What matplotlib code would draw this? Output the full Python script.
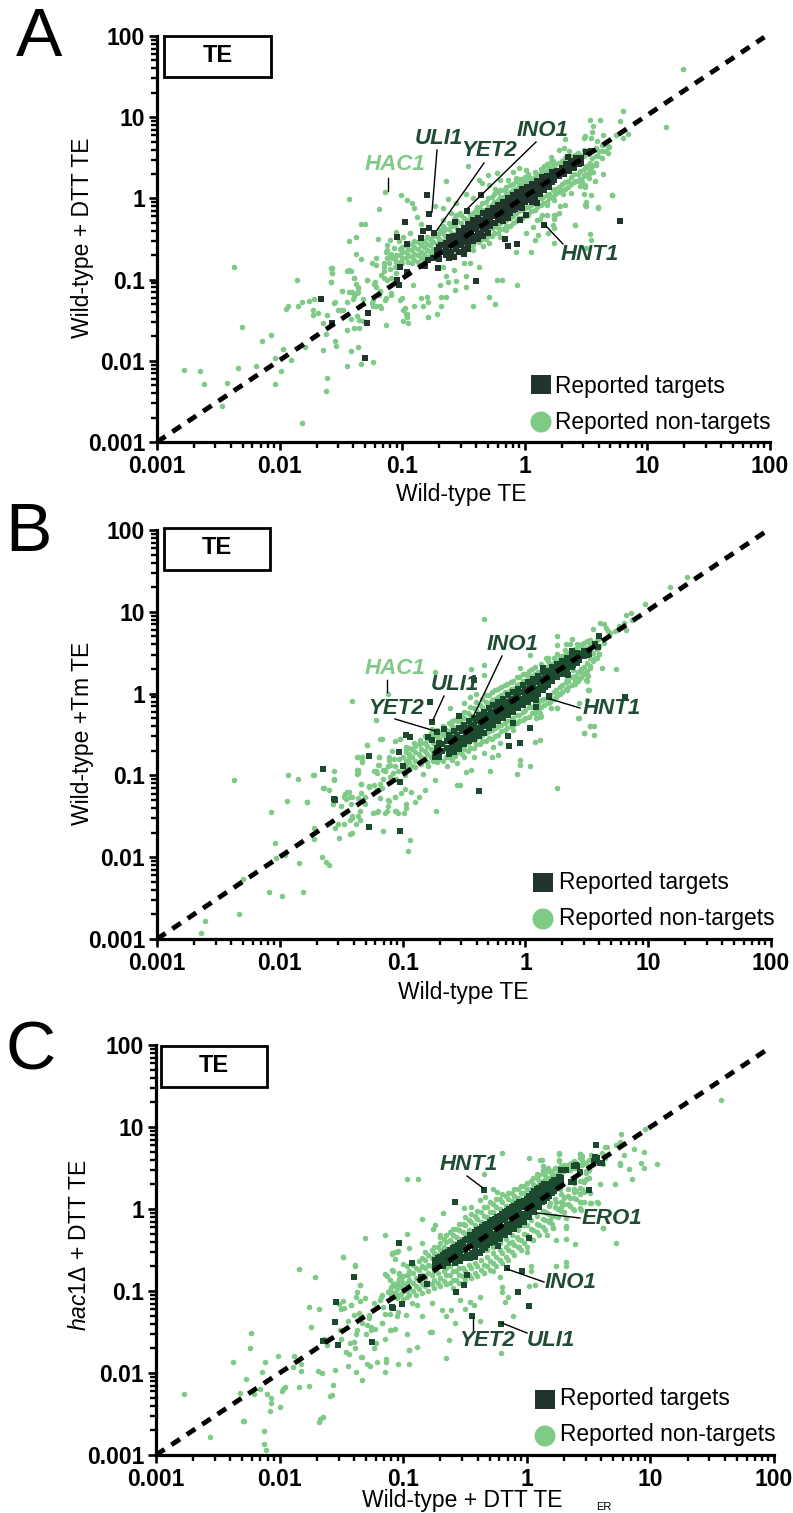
import numpy as np
import matplotlib
matplotlib.use('Agg')
import matplotlib.pyplot as plt
from matplotlib.patches import Rectangle, Ellipse
from matplotlib.ticker import FixedLocator, FixedFormatter, NullFormatter

plt.rcParams['font.family'] = ['Liberation Sans', 'DejaVu Sans']
plt.rcParams['mathtext.fontset'] = 'custom'
plt.rcParams['mathtext.rm'] = 'Liberation Sans'
plt.rcParams['mathtext.it'] = 'Liberation Sans:italic'

# values are log10(TE), (x, y)
a_others = [(-2.37,-.84),(-2.31,-1.58),(-2.78,-2.11),(-2.65,-2.13),(-2.62,-2.29),(-2.43,-2.27),(-2.34,-2.09),(-2.47,-2.56),
    (-2.14,-1.75),(-2.07,-1.68),(-1.97,-1.85),(-2.04,-1.96),(-2.19,-2.06),(-1.91,-1.99),(-1.99,-2.13),(-2.04,-2.29),
    (-1.79,-1.83),(-1.82,-2.77),(-1.61,-2.21),(-1.62,-2.37),(-1.65,-1.87),(-1.45,-2.06),(-1.34,-2.04),(-1.24,-2.01),
    (-1.42,-1.88),(-1.36,-1.83),(-1.55,-1.75),(-1.54,-1.82),(-1.62,-1.67),(-1.65,-1.53),(-1.61,-1.43),(-1.73,-1.44),
    (-1.73,-1.37),(-1.69,-1.41),(-1.85,-1.33),(-1.82,-1.28),(-1.95,-1.36),(-1.93,-1.32),(-1.76,-1.26),(-1.72,-1.24),
    (-1.86,-1.00),(-1.58,-1.03),(-1.57,-.92),(-1.57,-.86),(-1.56,-1.29),(-1.52,-1.37),(-1.50,-1.37),(-1.48,-1.37),
    (-1.45,-1.28),(-1.49,-1.14),(-1.43,-1.15),(-1.45,-.90),(-1.42,-.89),(-1.39,-.98),(-1.43,-.53),(-1.38,-.48),
    (-1.38,-.68),(-1.34,-.75),(-1.20,-.50),(-1.25,-.80),(-1.21,-.82),(-1.21,-.73),(-1.29,-1.01),(-1.38,-1.05),
    (-1.36,-1.10),(-1.37,-1.17),(-1.40,-1.24),(-1.32,-1.24),(-1.39,-1.20),(-1.45,-1.62),(-1.42,-1.49),(-1.39,-1.59),
    (-1.35,-1.60),(-1.37,-1.45),(-1.35,-1.50),(-1.32,-1.51),(-1.13,-1.56),(-1.23,-1.05),(-1.21,-1.09),(-1.18,-1.14),
    (-1.19,-1.19),(-1.24,-1.25),(-1.24,-1.32),(-1.21,-1.33),(-1.17,-1.35),(-1.13,-1.23),(-1.09,-1.19),(-.99,-1.37),
    (-.97,-1.42),(-.96,-1.46),(-.99,-1.51),(-.95,-1.54),(-1.00,-1.23),(-1.15,-.90),(-1.17,-.94),(-1.15,-.98),
    (-1.12,-1.00),(-1.09,-.98),(-1.05,-.92),(-1.12,-.57),(-1.13,-.66),(-1.12,-.74),(-1.11,-.80),(-1.07,-.61),
    (-1.10,-.51),(-1.03,-.52),(-1.05,-.41),(-.99,-.48),(-.94,-.43),(-1.15,-.85),(-1.10,-.87),(-1.06,-.84),
    (-1.14,.075),(-1.43,-.01),(-1.19,-.13),(-1.01,.04),(-.96,-.02),(-.92,-.06),(-.90,-.12),(-.88,-.23),(-1.34,-.31),
    (-1.30,-.31),(-.85,-.31),(-1.12,-.64),(-1.11,-.72),(-1.15,-.80),(-1.09,-.68),(-1.06,-.74),(-.64,.21),(-.63,-.01),
    (-.67,-.12),(-.73,-.09),(-.46,.40),(-.37,.23),(-.30,.29),(-.23,.31),(-.16,.12),(-.10,.33),(-.05,.37),(.01,.35),
    (-.05,.21),(-.29,.17),(-.35,.19),(-.24,.12),(-.20,.23),(-.14,.23),(-.07,.25),(.04,.25),(-.48,.06),(-.42,.00),
    (-.39,-.10),(-.56,-.06),(-.53,-.18),(-.60,-.18),(-.67,-.27),(-.69,-.39),(-.56,-.20),(-.67,-.84),(-.58,-.88),
    (-.50,-.80),(-.45,-.80),(-.37,-.84),(-.64,-.96),(-.63,-1.03),(-.69,-1.07),(-.58,-.72),(-.50,-.68),(-.42,-.64),
    (-.34,-.59),(-.29,-.55),(-.20,-.47),(-.15,-.39),(-.31,-.43),(-.23,-.35),(.12,-.25),(.07,-.35),(.11,-.45),
    (.08,-.51),(.01,-.42),(-.07,-.66),(.18,-.20),(.25,-.20),(.23,-.33),(.19,-.43),(.41,-.33),(.24,-.55),(.53,-.44),
    (.54,-.51),(.50,-.61),(.05,-.66),(.49,-.08),(.60,-.11),(.71,.04),(.52,.37),(.49,.17),(.56,.32),(.57,.21),
    (.45,.15),(.46,.23),(-.57,-1.13),(-.64,-1.21),(-.48,-1.09),(-.42,-1.33),(-.23,-1.00),(-.19,-1.00),
    (-.06,-1.07),(-.29,-1.22),(-.24,-1.30),(-.68,-1.22),(-.68,-1.33),(-.80,-1.21),(-.79,-1.28),(-.85,-1.23),(-.83,-1.33),
    (-.98,-1.35),(-.96,-1.42),(-1.02,-1.25),(-1.14,-1.25),(-1.18,-1.15),(-1.22,-1.03),(-1.29,-1.00),(-1.36,-1.09),
    (-1.58,-.86),(-1.57,-.92),(-1.58,-1.03),(-1.43,-.88),(-1.39,-.98),(-1.36,-1.15),(-1.49,-1.14),(-1.41,-1.15),
    (-1.55,-1.28),(-1.18,-1.33),(-1.25,-1.29),(-1.09,-1.17),(-.90,-1.33),(-.72,-1.42),(-.79,-1.46),(-.48,-.96),
    (-.56,-1.02),(-.91,-1.07),(1.29,1.59),(1.15,.88),(.80,1.08),(.53,.97),(.61,.97),(.78,.95),(.56,.89),(.55,.82),
    (.84,.79),(.74,.78),(.64,.78),(.49,.77),(.48,.74),(.54,.74),(.80,.74),(.59,.71),(.65,.67),(.69,.63),(.66,.58),
    (.33,.73),(.28,.60),(.32,.62),(.36,.58),(.21,.51),(.21,.45),(.16,.40),(.41,.53),(.58,.41),(.64,.30),(.53,.31),
    (.54,.39),(.48,.29),(.52,.25),(.47,.20),(.49,.14),(.41,.21),(.38,.07),(.48,.06),(.54,.04),(.71,.04),(.50,-.04),
    (.50,-.09),(.60,-.12),(.29,-.09),(.33,-.08),(.28,-.18),(.24,-.20),(.24,-.25),(.41,-.33),(.14,-.21),(.10,-.27),
    (.24,-.36),(.18,-.08),(.31,.06),(.24,-.02)]
# dense band: x with the y values stacked on it
a_band_others = [(-1.05,[-.78,-.70]),(-1.00,[-.80,-.74,-.66,-.60]),(-.95,[-.78,-.70,-.62,-.56]),(-.90,[-.76,-.68,-.60,-.52]),
    (-.85,[-.74,-.66,-.58,-.50]),(-.80,[-.72,-.64,-.56,-.48]),(-.75,[-.70,-.62,-.54,-.46]),(-.70,[-.68,-.60,-.50,-.42]),
    (-.65,[-.65,-.56,-.46,-.38]),(-.60,[-.62,-.52,-.42,-.34]),(-.55,[-.60,-.48,-.38,-.28]),(-.50,[-.60,-.46,-.36,-.24]),
    (-.45,[-.58,-.44,-.32,-.20]),(-.40,[-.52,-.30,-.22,-.14]),(-.35,[-.50,-.44,-.24,-.14,-.06]),(-.30,[-.46,-.38,-.20,-.10,.00]),
    (-.25,[-.42,-.34,-.14,-.04,.06]),(-.20,[-.38,-.30,-.08,.02,.10]),(-.15,[-.34,-.26,-.04,.06,.14]),(-.10,[-.30,-.22,.02,.10,.18]),
    (-.05,[-.24,-.16,.08,.16,.24]),(.00,[-.22,-.12,.12,.20,.26]),(.05,[-.16,-.08,.18,.24]),(.10,[-.10,-.02,.22,.30]),
    (.15,[-.06,.02,.26,.34]),(.20,[.00,.06,.30,.38]),(.25,[.06,.12,.36,.42]),(.30,[.10,.18,.40,.46]),(.35,[.14,.22,.46]),
    (.40,[.20,.30,.50]),(.45,[.24,.34,.54]),(.50,[.30,.40,.56]),(.55,[.40,.50]),(.60,[.52,.58]),
    (-1.08,[-.74]),(-1.02,[-.78,-.70,-.62]),(-.97,[-.74,-.66,-.58]),(-.92,[-.72,-.64,-.56,-.80]),(-.87,[-.70,-.62,-.54,-.78]),
    (-.82,[-.68,-.60,-.52,-.76]),(-.77,[-.66,-.58,-.50,-.74]),(-.72,[-.64,-.56,-.46,-.72]),(-.67,[-.62,-.52,-.42,-.34]),
    (-.62,[-.58,-.48,-.38,-.30]),(-.57,[-.66,-.44,-.34,-.24]),(-.52,[-.66,-.40,-.30,-.20]),(-.47,[-.62,-.52,-.36,-.26,-.16]),
    (-.42,[-.58,-.46,-.36,-.26,-.18]),(-.37,[-.54,-.38,-.28,-.18,-.10]),(-.32,[-.50,-.40,-.26,-.14,-.04]),(-.27,[-.46,-.36,-.20,-.08,.02]),
    (-.22,[-.42,-.32,-.16,-.02,.08]),(-.17,[-.38,-.28,-.10,.02,.10]),(-.12,[-.34,-.24,-.04,.08,.16]),(-.07,[-.28,-.18,.02,.12,.22]),
    (-.02,[-.24,-.14,.06,.16,.24]),(.03,[-.20,-.10,.12,.22,.30]),(.08,[-.14,-.04,.16,.26,.32]),(.13,[-.08,.00,.20,.30,.36]),
    (.18,[-.04,.04,.24,.34,.42]),(.23,[.02,.10,.30,.40,.46]),(.28,[.08,.14,.34,.44]),(.33,[.12,.20,.40,.50]),(.38,[.18,.26,.44,.52]),
    (.43,[.22,.30,.48,.56]),(.48,[.28,.36,.52,.60]),(.53,[.34,.44,.58]),(.58,[.44,.52,.62]),(.63,[.50,.58,.66]),(.68,[.56,.64])]
a_targets = [(-1.66,-1.24),(-1.57,-1.53),(-1.28,-1.41),(-1.29,-1.54),(-1.30,-1.97),(-1.04,-.47),(-.96,-.56),(-1.02,-.84),
    (-.96,-.91),(-1.04,-1.00),(-1.03,-1.07),(-.80,.04),(-.78,-.19),(-.74,-.42),(-.98,-.29),(-.85,-.49),(-.83,-.40),
    (-.78,-.36),(-.40,-1.02),(-.47,-.15),(-.36,.04),(-.16,-.50),(-.14,-.59),(-.06,-.56),(.78,-.28),(.35,.51),(-.57,-.29),
    (-.81,-.83),(-.79,-.76),(-.75,-.74),(-.71,-.86),(.50,.57),(.54,.58),(.16,-.33),(-.04,-.27),(.01,-.20),(.07,-.02),
    (.05,.02),(.10,-.06)]
a_band_targets = [(-.72,[-.63,-.70]),(-.68,[-.58,-.66]),(-.64,[-.55,-.62,-.70]),(-.60,[-.50,-.58,-.66]),(-.56,[-.47,-.56,-.62]),
    (-.52,[-.42,-.50,-.58]),(-.48,[-.38,-.46,-.54]),(-.44,[-.36,-.43,-.50]),(-.40,[-.30,-.38,-.46]),(-.36,[-.26,-.34,-.42]),
    (-.32,[-.22,-.30,-.38]),(-.28,[-.19,-.27,-.34]),(-.24,[-.14,-.22,-.30]),(-.20,[-.12,-.19,-.27]),(-.16,[-.06,-.14,-.22]),
    (-.12,[-.03,-.10,-.18]),(-.08,[.02,-.06,-.13]),(-.04,[.05,-.02,-.10]),(.00,[.09,.02,-.05]),(.04,[.12,.05,-.02]),
    (.08,[.15,.08,.02]),(.12,[.20,.13,.06]),(.16,[.23,.16,.10]),(.20,[.26,.20,.14]),(.24,[.30,.23]),(.28,[.33,.27]),
    (.32,[.37,.30]),(.36,[.40,.34]),(.40,[.44,.38]),(.44,[.47,.42]),
    (-.70,[-.60,-.75]),(-.62,[-.48,-.74]),(-.58,[-.46,-.54,-.72]),(-.54,[-.40,-.52,-.66]),(-.50,[-.36,-.44,-.62,-.68]),
    (-.46,[-.32,-.40,-.56,-.62]),(-.42,[-.26,-.34,-.52]),(-.38,[-.24,-.32,-.42,-.50]),(-.34,[-.18,-.26,-.38,-.46]),
    (-.30,[-.16,-.24,-.34,-.42]),(-.26,[-.12,-.18,-.30]),(-.22,[-.08,-.16,-.26]),(-.18,[-.04,-.10,-.20,-.28]),(-.14,[.00,-.08,-.18,-.24]),
    (-.10,[.04,-.02,-.14]),(-.06,[.08,.00,-.10]),(-.02,[.12,.04,-.06,-.12]),(.02,[.14,.08,-.02]),(.06,[.18,.10,.04,-.04]),
    (.10,[.22,.14,.08]),(.14,[.26,.20,.12]),(.18,[.28,.22,.16]),(.22,[.32,.26,.20]),(.26,[.34,.28]),(.30,[.38,.32]),
    (.34,[.42,.36]),(.38,[.46,.40]),(.42,[.50,.44]),(.46,[.50,.44])]

b_others = [(-2.37,-1.06),(-1.93,-.99),(-1.85,-1.04),(-1.72,-.99),(-1.56,-.95),(-1.56,-1.05),(-1.65,-1.15),(-1.60,-1.18),
    (-1.94,-1.31),(-1.78,-1.32),(-2.07,-1.45),(-1.72,-1.64),(-1.72,-1.78),(-2.04,-1.83),(-1.96,-1.97),(-2.03,-2.01),
    (-1.84,-2.07),(-1.66,-2.00),(-1.62,-2.06),(-1.60,-2.09),(-2.30,-2.27),(-2.09,-2.43),(-1.98,-2.48),(-1.81,-2.42),
    (-2.33,-2.69),(-2.61,-2.78),(-2.64,-2.93),(-1.52,-1.77),(-1.43,-1.72),(-1.41,-1.71),(-1.55,-1.64),(-1.53,-1.60),
    (-1.48,-1.60),(-1.43,-1.55),(-1.41,-1.52),(-1.38,-1.59),(-1.35,-1.55),(-1.36,-1.50),(-1.35,-1.44),(-1.57,-1.35),
    (-1.50,-1.37),(-1.42,-1.35),(-1.47,-1.23),(-1.44,-1.20),(-1.46,-1.29),(-1.41,-1.27),(-1.36,-1.28),(-1.34,-1.22),
    (-1.31,-1.26),(-1.31,-1.35),(-1.34,-1.11),(-1.27,-1.14),(-1.23,-1.12),(-1.37,-.94),(-1.36,-.97),(-1.37,-.78),
    (-1.33,-.77),(-1.33,-.83),(-1.29,-.63),(-1.17,-.56),(-1.19,-.78),(-1.19,-.87),(-1.22,-.95),(-1.21,-.97),(-1.16,-.93),
    (-1.09,-.70),(-1.06,-.58),(-1.02,-.56),(-1.11,-.77),(-1.07,-.80),(-1.03,-.80),(-1.12,-.89),(-1.10,-.87),(-1.14,-.95),
    (-1.08,-.97),(-1.04,-.95),(-1.16,-1.04),(-1.10,-1.02),(-1.05,-1.04),(-.97,-.69),(-.95,-.77),(-.97,-.85),(-.98,-1.00),
    (-.98,-1.17),(-1.18,-1.28),(-1.11,-1.31),(-1.06,-1.26),(-1.12,-1.38),(-1.13,-1.44),(-1.14,-1.46),(-1.24,-1.46),
    (-1.21,-1.45),(-1.06,-1.44),(-1.04,-1.46),(-.99,-1.46),(-.97,-1.35),(-1.16,-1.68),(-.96,-1.92),(-.94,-1.79),
    (-1.21,-1.18),(-1.17,-1.15),(-1.12,-.01),(-1.41,-.09),(-.34,.91),(-.74,.26),(-1.22,-.32),(-.44,.30),(-.34,.35),
    (-.34,.23),(-.61,-.18),(-.45,-.04),(-.40,.00),(-.50,-.12),(-.53,-.32),(-.60,-.34),(-.67,-.49),(-.76,-.43),(-.86,-.57),
    (-.91,-.61),(-.97,-.65),(-1.02,-.55),(-1.29,-.63),(-1.18,-.55),(-1.36,-.77),(-1.33,-.77),(-1.33,-.84),(-1.19,-.77),
    (-1.20,-.87),(-1.11,-.81),(-1.06,-.89),(-1.14,-.93),(-1.23,-.95),(-1.36,-.93),(-1.37,-.98),(-1.56,-1.06),
    (-1.73,-.99),(-1.64,-1.15),(-1.34,-1.11),(-1.27,-1.13),(-1.18,-1.10),(-1.10,-1.08),
    (-1.45,-1.20),(-1.43,-1.26),(-1.48,-1.26),(-1.78,-1.32),(-.90,-1.32),(-1.06,-1.26),(-1.01,-1.21),(-.93,-1.20),
    (-.82,-1.18),(-.87,-1.26),(-.97,-1.40),(-1.05,-1.44),(-.73,-1.44),(-1.12,-1.30),(-1.20,-1.44),(-1.41,-1.50),
    (-.83,-.98),(-.79,-.89),(-.74,-1.06),(-.64,-.89),(-.60,-.81),(-.56,-.85),(-.50,-.77),(-.48,-.96),(-.44,-.94),(-.53,-1.12),
    (-.56,-1.12),(-.42,-.77),(-.27,-.77),(-.22,-.75),(-.29,-.95),(-.04,-.81),(-.04,-.87),(.04,-.89),(-.07,-.98),(.26,-1.15),
    (.08,-.59),(.12,-.57),(-.21,-.61),(-.10,-.45),(-.26,-.65),(-.34,-.73),(-.42,-.57),(.08,-.24),(.12,-.28),
    (.26,-.18),(.43,-.30),(.48,-.48),(.56,-.51),(.53,-.40),(.56,-.40),(.51,.04),(.49,.17),(.50,.23),(.42,.19),(.34,.17),
    (.39,.29),(.62,.31),(.74,.30),(.26,.70),(.26,.59),(.36,.61),(.31,.45),(.17,.44),(.04,.47),(-.04,.31),(.01,.23),
    (.61,.86),(.67,.76),(.80,.86),(1.32,1.42),(1.18,1.30),(.97,1.10),(.86,.99),
    (.82,.96),(.87,.90),(.76,.83),(.82,.78),(.64,.85),(.55,.79),(.66,.80),(.69,.74),(.73,.76),(.64,.62),(.38,.67),
    (.33,.61),(.42,.61),(.46,.61),(.53,.61),(.32,.53),(.26,.49),(.18,.44),(.60,.49),(.57,.43),
    (.53,.31),(.47,.25),(.51,.22),(.44,.18),(.40,.15),(.50,.15),(.52,.04),(.50,-.08),(.44,-.11),(.44,-.30),(.53,-.40),
    (.48,-.48),(.26,-.18),(.21,-.18),(.34,.04),(.27,.00),(.12,-.24),(.09,-.30),(.13,-.27)]
b_band_others = [(-1.00,[-.95,-.88,-.78]),(-.95,[-.92,-.84,-.74,-.66]),(-.90,[-.90,-.82,-.72,-.64]),(-.85,[-.86,-.78,-.68,-.60]),
    (-.80,[-.84,-.74,-.64,-.56]),(-.75,[-.82,-.72,-.60,-.52]),(-.70,[-.80,-.70,-.56,-.48]),(-.65,[-.78,-.68,-.54,-.44]),
    (-.60,[-.74,-.64,-.50,-.40]),(-.55,[-.72,-.60,-.44,-.34]),(-.50,[-.68,-.58,-.40,-.30,-.22]),(-.45,[-.66,-.56,-.34,-.26,-.16]),
    (-.40,[-.62,-.54,-.30,-.20,-.10]),(-.35,[-.58,-.50,-.26,-.16,-.06]),(-.30,[-.54,-.46,-.22,-.12,-.02]),(-.25,[-.52,-.42,-.16,-.06,.04]),
    (-.20,[-.46,-.38,-.12,-.02,.08]),(-.15,[-.42,-.34,-.08,.02,.12]),(-.10,[-.38,-.30,-.02,.06,.16]),(-.05,[-.34,-.26,.02,.12,.20]),
    (.00,[-.30,-.20,.08,.16,.24]),(.05,[-.24,-.16,.14,.22,.30]),(.10,[-.20,-.12,.18,.26]),(.15,[-.14,-.06,.24,.32]),
    (.20,[-.10,-.02,.28,.36]),(.25,[-.04,.04,.32,.40]),(.30,[.02,.10,.38,.46]),(.35,[.08,.16,.42,.50]),(.40,[.12,.22,.48,.54]),
    (.45,[.20,.30,.52,.60]),(.50,[.28,.38,.56,.64]),(.55,[.40,.50,.62]),(.60,[.48,.58,.68]),
    (-.97,[-.90,-.82,-.72]),(-.92,[-.88,-.78,-.68]),(-.87,[-.84,-.74,-.62]),(-.82,[-.80,-.70,-.60,-.52]),(-.77,[-.78,-.68,-.56,-.48]),
    (-.72,[-.84,-.64,-.52,-.44]),(-.67,[-.82,-.60,-.50,-.40]),(-.62,[-.78,-.58,-.46,-.36]),(-.57,[-.76,-.52,-.42,-.32]),
    (-.52,[-.74,-.64,-.38,-.28]),(-.47,[-.70,-.60,-.36,-.24]),(-.42,[-.66,-.56,-.28,-.18]),(-.37,[-.62,-.52,-.24,-.14]),
    (-.32,[-.58,-.48,-.20,-.10,-.02]),(-.27,[-.56,-.44,-.18,-.08,.02]),(-.22,[-.50,-.40,-.14,-.04,.06]),(-.17,[-.44,-.36,-.08,.02,.10]),
    (-.12,[-.40,-.32,-.04,.06,.14]),(-.07,[-.36,-.26,.00,.10,.20]),(-.02,[-.32,-.22,.06,.16,.24]),(.03,[-.28,-.16,.10,.20,.28]),
    (.08,[-.22,-.12,.16,.24,.32]),(.13,[-.16,-.08,.20,.28,.36]),(.18,[-.12,-.04,.26,.32,.40]),(.23,[-.06,.02,.30,.38,.44]),
    (.28,[.00,.08,.36,.44]),(.33,[.06,.14,.40,.48]),(.38,[.10,.20,.44,.52]),(.43,[.16,.26,.50,.58]),(.48,[.24,.32,.54,.62]),
    (.53,[.34,.44,.58,.66]),(.58,[.44,.54,.66])]
b_targets = [(-1.65,-.92),(-1.55,-1.30),(-1.27,-.76),(-1.03,-.71),(-.97,-.50),(-1.00,-.88),(-1.02,-1.08),(-1.27,-1.63),
    (-1.02,-1.68),(-.78,-.10),(-.76,-.35),(-.72,-.47),(-.66,-.43),(-.54,-.27),(-.42,.17),(-.94,-.53),(-.79,-.53),
    (-.76,-.57),(-1.56,-1.29),(-.38,-1.19),(-.13,-.64),(-.04,-.61),(-.14,-.52),(.04,-.42),(-.10,-.36),(.14,.31),(.25,.33),
    (.38,.52),(.60,.70),(.57,.61),(.19,-.04),(.81,-.04),(.35,.23),(-.74,-.77),(.09,-.16),(.09,-.08),(.50,.47),(.59,.57),
    (.52,.49),(.44,.41),(.39,.35),(.19,-.03)]
b_band_targets = [(-.72,[-.72,-.66]),(-.68,[-.70,-.62]),(-.64,[-.66,-.58]),(-.60,[-.62,-.54,-.68]),(-.56,[-.58,-.50,-.64]),
    (-.52,[-.54,-.46,-.60]),(-.48,[-.50,-.42,-.56]),(-.44,[-.46,-.38,-.52]),(-.40,[-.42,-.34,-.48]),(-.36,[-.38,-.30,-.44]),
    (-.32,[-.34,-.26,-.40]),(-.28,[-.30,-.22,-.36]),(-.24,[-.26,-.18,-.32]),(-.20,[-.22,-.14,-.28]),(-.16,[-.18,-.10,-.24]),
    (-.12,[-.14,-.06,-.20]),(-.08,[-.10,-.02,-.16]),(-.04,[-.06,.02,-.12]),(.00,[-.02,.06,-.08]),(.04,[.02,.10,-.04]),
    (.08,[.06,.14,.00]),(.12,[.10,.18,.04]),(.16,[.14,.22,.08]),(.20,[.18,.25]),(.24,[.22,.29]),(.28,[.26,.33]),
    (.32,[.30,.37]),(.36,[.34,.41]),(.40,[.38,.45]),(.44,[.42,.48]),(.48,[.46,.52]),
    (-.70,[-.60,-.78]),(-.62,[-.50,-.74]),(-.58,[-.46,-.72]),(-.54,[-.42,-.68]),(-.50,[-.38,-.46,-.62]),(-.46,[-.34,-.42,-.58]),
    (-.42,[-.30,-.38,-.56]),(-.38,[-.26,-.34,-.52]),(-.34,[-.22,-.30,-.48]),(-.30,[-.18,-.26,-.42]),(-.26,[-.14,-.22,-.38]),
    (-.22,[-.10,-.18,-.34]),(-.18,[-.06,-.14,-.30]),(-.14,[-.02,-.10,-.26]),(-.10,[.02,-.06,-.22]),(-.06,[.06,-.02,-.18]),
    (-.02,[.10,.02,-.14]),(.02,[.14,.06,-.10]),(.06,[.18,.10,-.06]),(.10,[.22,.14,.00]),(.14,[.26,.18,.04]),(.18,[.28,.20,.10]),
    (.22,[.32,.16]),(.26,[.36,.20]),(.30,[.40,.24]),(.34,[.44,.28]),(.38,[.48,.32]),(.42,[.50,.38])]

c_others = [(-2.77,-2.25),(-2.56,-2.78),(-2.30,-2.59),(-2.29,-2.59),(-2.13,-2.71),(-2.13,-2.87),(-2.11,-2.94),(-2.23,-1.51),
    (-2.24,-1.70),(-2.38,-1.87),(-2.12,-1.86),(-2.01,-1.79),(-2.14,-1.99),(-2.27,-2.07),(-2.32,-2.24),(-2.21,-2.26),
    (-2.16,-2.19),(-2.10,-2.26),(-2.07,-2.31),(-2.07,-2.36),(-2.00,-2.41),(-2.08,-2.46),(-1.96,-2.17),(-1.97,-2.19),
    (-1.98,-2.22),(-1.84,-2.17),(-1.76,-2.16),(-1.89,-1.93),(-1.88,-1.79),(-1.83,-1.89),(-1.83,-1.98),(-1.69,-1.97),
    (-1.66,-2.00),(-1.57,-2.15),(-1.58,-2.27),(-1.59,-2.28),(-1.65,-2.54),(-1.67,-2.56),(-1.68,-2.60),(-1.84,-.73),
    (-1.71,-.83),(-1.76,-1.19),(-1.68,-1.22),(-1.75,-1.44),(-1.49,-.59),(-1.39,-.69),(-1.35,-.93),(-1.37,-1.01),(-1.31,-1.08),
    (-1.35,-1.12),(-1.42,-1.17),(-1.49,-1.12),(-1.52,-1.16),(-1.50,-1.22),(-1.40,-1.29),(-1.36,-1.27),(-1.28,-1.29),
    (-1.24,-1.15),(-1.18,-1.07),(-1.17,-1.39),(-1.10,-1.48),(-1.07,-1.46),(-.97,-1.53),(-1.45,-1.37),(-1.33,-1.39),(-1.29,-1.41),
    (-1.37,-1.47),(-1.38,-1.52),(-1.30,-1.52),(-1.26,-1.48),(-1.23,-1.46),(-1.51,-1.47),(-1.64,-1.58),(-1.60,-1.58),(-1.62,-1.66),
    (-1.50,-1.58),(-1.43,-1.63),(-1.40,-1.62),(-1.39,-1.69),(-1.46,-1.74),(-1.44,-1.77),(-1.33,-1.81),(-1.24,-1.70),(-1.22,-1.64),
    (-1.15,-1.59),(-1.45,-1.91),(-1.55,-1.96),(-1.38,-1.99),(-1.33,-2.09),(-1.29,-1.89),(-1.27,-1.92),(-1.21,-1.86),(-1.14,-1.83),
    (-1.14,-1.87),(-1.15,-1.99),(-1.04,-1.89),(-.95,-1.89),(-.95,-1.72),(-1.09,-.55),(-1.05,-.52),(-1.04,-.51),(-1.07,-.61),
    (-1.00,-.67),(-.97,-.70),(-1.08,-.76),(-1.03,-.78),(-1.13,-.82),(-1.11,-.87),(-1.03,-.85),(-.96,-.80),(-1.08,-.91),(-1.04,-.95),
    (-1.12,-1.01),(-1.08,-1.03),(-1.03,-1.05),(-.97,-.91),(-.97,-1.07),(-1.19,-1.11),(-1.16,-1.19),(-1.15,-1.28),(-1.11,-1.28),
    (-1.04,-1.25),(-1.05,-1.31),(-.98,-1.29),(-.97,.37),(-.88,.37),(-.20,.68),(-.35,.43),(-.27,.25),(-.24,.21),(-.38,.11),
    (-.34,.15),(-.45,.03),(-.51,.01),(-.68,-.05),(-.85,-.12),(-.74,-.20),(-.76,-.24),(-.70,-.32),(-.97,-.30),(-1.15,-.32),
    (-1.31,-.35),(-.85,-.42),(-.95,-.48),(-1.07,-.52),(-1.09,-.54),(-1.49,-.59),(-1.39,-.68),(-1.09,-.74),(-1.15,-.79),(-1.03,-.79),
    (-1.35,-.93),(-1.17,-1.05),(-1.11,-.99),(-1.38,-1.07),(-1.42,-1.17),(-1.48,-1.21),(-1.35,-1.29),(-1.28,-1.33),(-1.26,-1.44),
    (-1.17,-1.39),(-1.11,-1.48),(-.78,-1.50),(-.77,-1.50),(-.63,-1.60),(-.89,-1.68),(-.95,-1.72),(-.65,-1.82),
    (-.21,-1.76),(-1.34,-1.80),(-.58,-1.39),(-.65,-1.31),(-.69,-1.23),(-.61,-1.23),(-.50,-1.22),(-.46,-1.13),(-.43,-1.17),(-.38,-1.07),
    (-.54,-1.11),(-.38,-1.37),(-.11,-1.31),(-.18,-1.13),(-.20,-.95),(-.15,-1.07),(-.20,-1.01),(-.22,-.83),(-.27,-.76),(.03,-.70),
    (.03,-.76),(.02,-.94),(.07,-.93),(.24,-.70),(.32,-.65),(.32,-.70),(.39,-.43),(.72,-.41),(.62,-.23),(.32,-.36),(.24,-.38),
    (.16,-.32),(.21,-.23),(.32,-.21),(-.89,-1.17),(-.93,-1.15),(-.77,-1.15),(-.85,-1.31),(.02,.62),(.11,.60),(.26,.68),(.43,.67),(.26,.60),
    (.13,.52),(.08,.43),(-.14,-.42),(-.06,-.46),(.00,-.52),(-.08,-.34),(.51,.07),(.58,.07),(.46,.21),(.44,-.01),(.38,-.01),(.43,.09),(1.57,1.33),(.96,.98),(.76,.91),(.75,.82),(.72,.78),
    (.63,.76),(.65,.76),(.61,.68),(.63,.62),(.87,.73),(.95,.70),(.79,.66),(.75,.56),(.75,.54),(.92,.56),(1.05,.55),(.95,.50),(.83,.49),
    (.85,.36),(.71,.31),(.59,.30),(.26,.67),(.26,.59),(.43,.67),(.45,.65),(.52,.66),(.12,.60),(.13,.48),(.17,.50),(.62,.55),(.48,.44),
    (.43,.18),(.51,.19),(.44,.08),(.46,.09),(.52,.07),(.57,.08),(.28,.02),(.37,.00),(.43,.01),(.32,-.11),(.21,-.23),(.32,-.23),(.62,-.23),
    (.19,-.13),(.16,-.05),(.19,.07),(.24,.09),(.30,.15),(.38,.21),(.36,.56),(.20,.44),(.22,.35),(.46,.33),(.27,.25)]
c_band_others = [(-1.10,[-1.05,-.95]),(-1.05,[-1.08,-.98,-.90]),(-1.00,[-1.10,-1.00,-.90,-.82]),(-.95,[-1.05,-.96,-.86,-.76]),
    (-.90,[-1.05,-.94,-.84,-.72]),(-.85,[-1.02,-.92,-.80,-.70,-.60]),(-.80,[-1.00,-.90,-.78,-.68,-.56]),(-.75,[-.96,-.86,-.76,-.54,-.46]),
    (-.70,[-.94,-.84,-.50,-.42,-.34]),(-.65,[-.92,-.80,-.72,-.40,-.32]),(-.60,[-.96,-.86,-.76,-.42,-.32,-.24]),(-.55,[-.90,-.80,-.72,-.36,-.26,-.18]),
    (-.50,[-.86,-.76,-.30,-.20,-.10]),(-.45,[-.84,-.72,-.28,-.16,-.06]),(-.40,[-.82,-.70,-.24,-.12,-.02]),(-.35,[-.78,-.68,-.18,-.08,.02]),
    (-.30,[-.74,-.64,-.14,-.04,.08]),(-.25,[-.70,-.58,-.08,.02,.12]),(-.20,[-.66,-.54,-.02,.08,.18]),(-.15,[-.62,-.50,.02,.12,.20]),
    (-.10,[-.56,-.44,.08,.16,.24]),(-.05,[-.50,-.38,.12,.20,.28]),(.00,[-.46,-.32,-.20,.16,.24,.32]),(.05,[-.38,-.26,.22,.30,.38]),
    (.10,[-.32,-.20,.26,.34,.42]),(.15,[-.26,-.14,-.04,.36,.42,.48]),(.20,[-.18,-.08,.40,.46]),(.25,[-.10,.00,.44,.50]),
    (.30,[-.04,.06,.14,.46,.54]),(.35,[.04,.14,.48,.54]),(.40,[.12,.22,.50,.56]),(.45,[.24,.34,.54,.60]),(.50,[.38,.48,.60]),
    (-1.07,[-1.02,-.94]),(-1.02,[-1.04,-.94,-.86]),(-.97,[-1.00,-.90,-.80]),(-.92,[-1.00,-.90,-.78,-.68]),(-.87,[-.98,-.86,-.74,-.64]),
    (-.82,[-.94,-.84,-.72,-.62,-.52]),(-.77,[-.92,-.80,-.70,-.60,-.50]),(-.72,[-.90,-.78,-.66,-.56,-.46]),(-.67,[-.88,-.76,-.46,-.36]),
    (-.62,[-.90,-.80,-.70,-.38,-.28]),(-.57,[-.86,-.76,-.66,-.34,-.24]),(-.52,[-.82,-.72,-.28,-.18]),(-.47,[-.80,-.68,-.26,-.14]),
    (-.42,[-.78,-.66,-.20,-.08]),(-.37,[-.74,-.62,-.16,-.04]),(-.32,[-.70,-.58,-.50,-.10,.02]),(-.27,[-.66,-.54,-.46,-.04,.06]),
    (-.22,[-.62,-.50,-.42,.00,.12]),(-.17,[-.58,-.46,-.36,.04,.16]),(-.12,[-.52,-.40,-.32,.10,.20]),(-.07,[-.46,-.36,-.26,.14,.24]),
    (-.02,[-.42,-.30,-.20,.20,.28]),(.03,[-.36,-.24,-.14,.24,.34]),(.08,[-.28,-.18,-.08,.28,.38]),(.13,[-.22,-.12,-.02,.34,.44]),
    (.18,[-.16,-.06,.04,.38,.46]),(.23,[-.08,.02,.12,.42,.50]),(.28,[-.02,.08,.18,.44,.52]),(.33,[.06,.16,.24,.48,.54]),
    (.38,[.14,.24,.32,.50,.58]),(.43,[.26,.34,.44,.54,.62]),(.48,[.36,.46,.56])]
c_targets = [(-1.03,-.42),(-1.40,-.83),(-1.54,-1.14),(-1.55,-1.38),(-1.65,-1.61),(-1.53,-1.66),(-1.25,-1.62),(-1.08,-1.21),(-1.01,-1.16),
    (-.35,.23),(-.58,.08),(-.93,-.66),(-1.09,-1.20),(-.16,-.72),(-.04,-.75),(-.07,-1.01),(.02,-1.18),(.02,-.35),(-.44,-1.31),
    (-.21,-1.40),(-.57,-1.01),(-.51,-.93),(-.48,-.81),(-.81,-.91),(-.86,-.83),(-.23,-.45),(.56,.78),
    (.50,.23),(.57,.62),(.61,.56),(.40,.54),(.32,.47),(.38,.33),(.05,-.01),(.55,.63),(.59,.56),(.54,.58),(.41,.52),(.28,.47),
    (.26,.39),(.43,.45),(.38,.52),(.36,.33)]
c_band_targets = [(-.72,[-.66,-.60]),(-.68,[-.70,-.62,-.56]),(-.64,[-.66,-.58,-.52]),(-.60,[-.62,-.54,-.48]),(-.56,[-.60,-.50,-.44]),
    (-.52,[-.58,-.48,-.40]),(-.48,[-.56,-.46,-.36]),(-.44,[-.54,-.44,-.34]),(-.40,[-.52,-.42,-.32,-.26]),(-.36,[-.50,-.40,-.30,-.22]),
    (-.32,[-.44,-.34,-.26,-.18]),(-.28,[-.38,-.30,-.22,-.14]),(-.24,[-.34,-.26,-.18,-.10]),(-.20,[-.30,-.22,-.14,-.06]),
    (-.16,[-.26,-.18,-.10,-.02]),(-.12,[-.22,-.14,-.06,.02]),(-.08,[-.18,-.10,-.02,.06]),(-.04,[-.14,-.06,.02,.08]),
    (.00,[-.10,-.02,.06,.12]),(.04,[-.04,.04,.12,.18]),(.08,[.02,.10,.18,.24]),(.12,[.08,.16,.22,.28]),(.16,[.14,.22,.28]),
    (.20,[.20,.28,.33]),(.24,[.26,.34]),(.28,[.32,.38]),
    (-.74,[-.62,-.70]),(-.70,[-.66,-.58]),(-.66,[-.62,-.54]),(-.62,[-.58,-.50]),(-.58,[-.66,-.46,-.54]),(-.54,[-.64,-.42,-.52]),
    (-.50,[-.60,-.38,-.50]),(-.46,[-.60,-.40,-.32]),(-.42,[-.58,-.46,-.36,-.28]),(-.38,[-.54,-.44,-.34,-.24]),(-.34,[-.48,-.38,-.28,-.20]),
    (-.30,[-.42,-.32,-.24,-.16]),(-.26,[-.40,-.30,-.20,-.12]),(-.22,[-.36,-.28,-.16,-.08]),(-.18,[-.32,-.24,-.12,-.04]),
    (-.14,[-.28,-.20,-.08,.00]),(-.10,[-.24,-.16,-.04,.04]),(-.06,[-.20,-.12,.00,.08]),(-.02,[-.16,-.08,.04,.10]),(.02,[-.10,-.02,.08,.16]),
    (.06,[-.04,.06,.14,.22]),(.10,[.02,.12,.20,.26]),(.14,[.10,.18,.26,.30]),(.18,[.16,.24,.30]),(.22,[.22,.30,.35]),(.26,[.28,.36])]

decades = [0.001, 0.01, 0.1, 1, 10, 100]
decade_labels = ['0.001', '0.01', '0.1', '1', '10', '100']
legend_labels = ['Reported targets', 'Reported non-targets']
line_a_end = [90, 97]
line_b_end = [90, 95]
line_c_end = [85, 85]

GREEN = '#80ca88'
DARK_A = '#22352c'
DARK_BC = '#1b4a2f'
LABEL = '#1f4c33'
W, H = 793, 1513

fig = plt.figure(figsize=(W / 100, H / 100), dpi=100, facecolor='white')


def expand(pairs, band):
    xs = [p[0] for p in pairs]
    ys = [p[1] for p in pairs]
    for x, stack in band:
        for y in stack:
            xs.append(x)
            ys.append(y)
    return 10.0 ** np.array(xs), 10.0 ** np.array(ys)


def panel(rect, others, band_others, targets, band_targets, line_end, dark):
    left, top, right, bottom = rect
    ax = fig.add_axes([left / W, 1 - bottom / H, (right - left) / W, (bottom - top) / H])
    ax.set_xscale('log')
    ax.set_yscale('log')
    ax.set_xlim(0.001, 100)
    ax.set_ylim(0.001, 100)
    ox, oy = expand(others, band_others)
    tx, ty = expand(targets, band_targets)
    ax.scatter(ox, oy, s=16, c=GREEN, linewidths=0, marker='o', clip_on=False, zorder=2)
    ax.scatter(tx, ty, s=18, c=dark, linewidths=0, marker='s', clip_on=False, zorder=3)
    ax.plot([0.001, line_end[0]], [0.001, line_end[1]], color='black', lw=3.5, ls=(0, (2.1, 1.7)),
            clip_on=False, zorder=4)
    for s in ['top', 'right']:
        ax.spines[s].set_visible(False)
    for s in ['left', 'bottom']:
        ax.spines[s].set_linewidth(2.3)
    minor = [m * d for d in decades[:-1] for m in range(2, 10)]
    for axis in [ax.xaxis, ax.yaxis]:
        axis.set_major_locator(FixedLocator(decades))
        axis.set_major_formatter(FixedFormatter(decade_labels))
        axis.set_minor_locator(FixedLocator(minor))
        axis.set_minor_formatter(NullFormatter())
    ax.tick_params(which='major', length=5.5, width=1.9, labelsize=16.5)
    ax.tick_params(which='minor', length=4, width=1.7)
    ax.tick_params(axis='x', which='major', pad=4)
    ax.tick_params(axis='y', which='major', pad=3)
    for lab in ax.get_xticklabels() + ax.get_yticklabels():
        lab.set_fontweight('bold')
    return ax


panel((157, 36, 770, 442), a_others, a_band_others, a_targets, a_band_targets, line_a_end, DARK_A)
panel((157, 530, 771, 939), b_others, b_band_others, b_targets, b_band_targets, line_b_end, DARK_BC)
panel((156, 1045, 774, 1455), c_others, c_band_others, c_targets, c_band_targets, line_c_end, DARK_BC)

# overlay in picture pixels for the labels, boxes and legends
ov = fig.add_axes([0, 0, 1, 1], zorder=10)
ov.set_xlim(0, W)
ov.set_ylim(H, 0)
ov.axis('off')

for s, x, y in [('A', 39, 38), ('B', 28, 533), ('C', 31, 1052)]:
    ov.text(x, y, s, fontsize=50, ha='center', va='center')

for x0, y0, x1, y1 in [(164, 36, 271, 77), (164, 528, 270, 570), (161, 1046, 267, 1087)]:
    ov.add_patch(Rectangle((x0, y0), x1 - x0, y1 - y0, fc='white', ec='black', lw=2.0))
    ov.text((x0 + x1) / 2, (y0 + y1) / 2 - 1, 'TE', fontsize=17, fontweight='bold', ha='center', va='center')

for s, x, y, rot in [('Wild-type TE', 461, 494, 0), ('Wild-type TE', 463, 992, 0), ('Wild-type + DTT TE', 462, 1501, 0),
                     ('Wild-type + DTT TE', 82, 238, 90), ('Wild-type +Tm TE', 82, 733, 90),
                     (r'$\mathit{hac1\Delta}$ + DTT TE', 80, 1245, 90)]:
    ov.text(x, y, s, fontsize=16.5, ha='center', va='center', rotation=rot)

ov.text(604, 1507, 'ER', fontsize=8, ha='center', va='center')

# gene labels: text, centre of text, leader line
genes = [('HAC1', 395, 164, GREEN, (388, 178, 388, 191)),
         ('ULI1', 439, 138, LABEL, (437, 150, 432, 212)),
         ('YET2', 489, 151, LABEL, (484, 163, 437, 230)),
         ('INO1', 543, 131, LABEL, (536, 142, 468, 208)),
         ('HNT1', 590, 255, LABEL, (563, 244, 546, 226)),
         ('HAC1', 395, 669, GREEN, (387, 680, 387, 692)),
         ('ULI1', 455, 685, LABEL, (444, 696, 433, 720)),
         ('YET2', 396, 709, LABEL, (395, 719, 435, 731)),
         ('INO1', 513, 645, LABEL, (502, 656, 473, 717)),
         ('HNT1', 612, 709, LABEL, (580, 708, 550, 699)),
         ('HNT1', 469, 1164, LABEL, (467, 1176, 483, 1188)),
         ('ERO1', 612, 1218, LABEL, (580, 1218, 537, 1213)),
         ('INO1', 571, 1283, LABEL, (544, 1282, 507, 1269)),
         ('YET2', 487, 1340, LABEL, (473, 1330, 473, 1317)),
         ('ULI1', 551, 1340, LABEL, (527, 1333, 502, 1323))]
for name, x, y, col, seg in genes:
    ov.text(x, y, name, fontsize=16, fontweight='bold', fontstyle='italic', color=col, ha='center', va='center')
    ov.plot([seg[0], seg[2]], [seg[1], seg[3]], color='black', lw=1.0)

# legends
for sq_x, sq_y, circ_x, circ_y, tx, ty0, ty1 in [(531, 375, 541, 422, 555, 386, 422),
                                                  (533, 873, 543, 919, 559, 883, 919),
                                                  (535, 1390, 545, 1436, 560, 1399, 1435)]:
    ov.add_patch(Rectangle((sq_x, sq_y), 20, 19, fc=DARK_A, ec='none'))
    ov.add_patch(Ellipse((circ_x, circ_y), 21, 21, fc=GREEN, ec='none'))
    ov.text(tx, ty0, legend_labels[0], fontsize=16.4, ha='left', va='center')
    ov.text(tx, ty1, legend_labels[1], fontsize=16.4, ha='left', va='center')

fig.savefig('out.png', dpi=100)
